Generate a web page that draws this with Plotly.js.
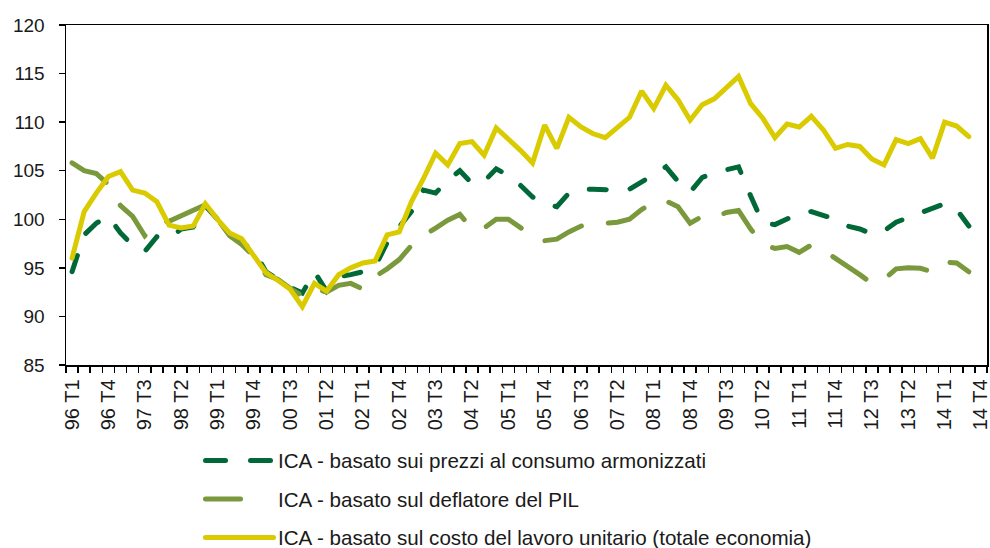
<!DOCTYPE html>
<html>
<head>
<meta charset="utf-8">
<script src="https://cdn.plot.ly/plotly-3.0.1.min.js"></script>
<style>
  html, body { margin: 0; padding: 0; background: #fff; }
  #chart { width: 990px; height: 548px; }
  .js-line, .shapelayer path { stroke-linecap: round; }
</style>
</head>
<body>
<div id="chart"></div>
<script>
// ---- Data (quarterly, 1996 T1 – 2014 T4) ----
const years = ['96','97','98','99','00','01','02','03','04','05','06','07','08','09','10','11','12','13','14'];
const quarterNames = ['T1','T2','T3','T4'];

// ICA - basato sui prezzi al consumo armonizzati
const icaHicp = [
  94.6, 98.4, 99.6, 100.3, 98.6, 97.3, 96.7, 98.2, 98.0, 99.0, 99.2, 101.4,
  100.0, 98.4, 97.6, 96.8, 94.6, 93.8, 93.0, 92.4, 94.6, 92.6, 94.1, 94.3,
  94.6, 95.1, 97.6, 99.2, 100.8, 103.0, 102.7, 104.0, 105.0, 103.7, 103.9, 105.2,
  104.5, 103.5, 102.3, 101.6, 101.3, 102.7, 103.1, 103.1, 103.0, 103.0, 103.1, 103.8,
  104.6, 105.4, 103.9, 102.8, 104.3, 104.8, 105.1, 105.4, 102.4, 99.6, 99.45, 100.0,
  100.6, 100.8, 100.4, 100.0, 99.3, 99.0, 98.5, 98.8, 99.7, 100.2, 100.7, 101.15,
  101.6, 101.0, 99.3, null
];
// ICA - basato sul deflatore del PIL
const icaDeflator = [
  105.8, 105.0, 104.7, 103.6, 101.4, 100.3, 98.3, 99.6, 99.8, 100.4, 101.0, 101.5,
  100.0, 98.3, 97.4, 96.2, 94.3, 93.8, 92.9, 92.1, 92.9, 92.5, 93.2, 93.4,
  92.8, 94.1, 94.9, 95.85, 97.3, 98.3, 99.1, 99.9, 100.5, 99.0, 99.1, 100.0,
  100.0, 99.1, 98.3, 97.8, 97.95, 98.7, 99.3, 99.5, 99.6, 99.7, 100.0, 101.0,
  101.8, 101.9, 101.3, 99.6, 100.3, 100.2, 100.7, 100.9, 99.0, 97.4, 97.0, 97.2,
  96.6, 97.35, 96.8, 96.0, 95.2, 94.3, 93.4, 93.8, 94.9, 95.0, 94.95, 94.6,
  95.6, 95.5, 94.6, null
];
// ICA - basato sul costo del lavoro unitario (totale economia)
const icaUlc = [
  96.0, 100.8, 102.7, 104.4, 104.9, 103.0, 102.7, 101.8, 99.4, 99.1, 99.3, 101.6,
  100.0, 98.6, 98.0, 96.2, 94.5, 93.7, 92.8, 91.0, 93.4, 92.6, 94.3, 95.0,
  95.5, 95.7, 98.4, 98.7, 101.8, 104.2, 106.8, 105.6, 107.8, 108.0, 106.6, 109.4,
  108.3, 107.1, 105.8, 109.7, 107.3, 110.5, 109.5, 108.8, 108.4, 109.4, 110.5, 113.2,
  111.4, 113.8, 112.3, 110.2, 111.8, 112.4, 113.5, 114.7, 111.9, 110.4, 108.4, 109.8,
  109.5, 110.6, 109.2, 107.3, 107.7, 107.5, 106.2, 105.6, 108.2, 107.8, 108.3, 106.3,
  110.0, 109.6, 108.5, null
];

const seriesNames = [
  'ICA - basato sui prezzi al consumo armonizzati',
  'ICA - basato sul deflatore del PIL',
  'ICA - basato sul costo del lavoro unitario (totale economia)'
];

// ---- Derived ----
const quarters = [];
years.forEach(y => quarterNames.forEach(q => quarters.push(y + ' ' + q)));
const idx = quarters.map((_, i) => i);
const labelStep = 3;
const tickIdx = idx.filter(i => i % labelStep === 0);
const tickTxt = tickIdx.map(i => quarters[i]);
const boundaries = [];
for (let i = 0; i <= quarters.length; i++) boundaries.push(i - 0.5);

// ---- Styles ----
const cDark = '#006937';
const cOlive = '#7A993D';
const cYellow = '#D9CB00';
const fontFam = '"Liberation Sans", Arial, sans-serif';

const traces = [
  { x: idx, y: icaHicp, name: seriesNames[0], type: 'scatter', mode: 'lines',
    line: { color: cDark, width: 5, dash: '17px,24px' }, connectgaps: false },
  { x: idx, y: icaDeflator, name: seriesNames[1], type: 'scatter', mode: 'lines',
    line: { color: cOlive, width: 5, dash: '40px,27px' }, connectgaps: false },
  { x: idx, y: icaUlc, name: seriesNames[2], type: 'scatter', mode: 'lines',
    line: { color: cYellow, width: 5 }, connectgaps: false }
];

// plot-area pixel frame for the hand-drawn legend
const PL = 66, PR = 987, PT = 25, PB = 365;
const fx = p => (p - PL) / (PR - PL);
const fy = p => (PB - p) / (PB - PT);

const legRows = [460.5, 499, 537.5];
const shapes = [
  { type: 'line', xref: 'paper', yref: 'paper', x0: fx(205.5), x1: fx(225.5), y0: fy(legRows[0]), y1: fy(legRows[0]), line: { color: cDark, width: 5 } },
  { type: 'line', xref: 'paper', yref: 'paper', x0: fx(250.5), x1: fx(270.5), y0: fy(legRows[0]), y1: fy(legRows[0]), line: { color: cDark, width: 5 } },
  { type: 'line', xref: 'paper', yref: 'paper', x0: fx(205.5), x1: fx(240.5), y0: fy(legRows[1]), y1: fy(legRows[1]), line: { color: cOlive, width: 5 } },
  { type: 'line', xref: 'paper', yref: 'paper', x0: fx(205.5), x1: fx(273.5), y0: fy(legRows[2]), y1: fy(legRows[2]), line: { color: cYellow, width: 5 } }
];
const annotations = seriesNames.map((t, k) => ({
  text: t, xref: 'paper', yref: 'paper', x: fx(276), y: fy(legRows[k]),
  xanchor: 'left', yanchor: 'middle', showarrow: false,
  font: { family: fontFam, size: 20.6, color: '#1a1a1a' }
}));

const layout = {
  width: 990, height: 548,
  margin: { l: PL, r: 990 - PR, t: PT, b: 548 - PB, pad: 0 },
  paper_bgcolor: '#ffffff', plot_bgcolor: '#ffffff',
  showlegend: false,
  hovermode: false,
  xaxis: {
    type: 'linear',
    range: [-0.5, quarters.length - 0.5],
    tickmode: 'array', tickvals: tickIdx, ticktext: tickTxt,
    tickangle: -90,
    ticks: '',
    ticklabelstandoff: 5,
    ticklabeloverflow: 'allow',
    tickfont: { family: fontFam, size: 20, color: '#1a1a1a' },
    minor: { tickmode: 'array', tickvals: boundaries, ticks: 'outside', ticklen: 6, tickwidth: 1.5, tickcolor: '#000' },
    showgrid: false, zeroline: false,
    showline: true, linecolor: '#000', linewidth: 1.5, mirror: true
  },
  yaxis: {
    range: [85, 120],
    tickmode: 'linear', tick0: 85, dtick: 5,
    ticks: 'outside', ticklen: 6, tickwidth: 1.5, tickcolor: '#000',
    ticklabelstandoff: 10,
    tickfont: { family: fontFam, size: 19, color: '#1a1a1a' },
    showgrid: false, zeroline: false,
    showline: true, linecolor: '#000', linewidth: 1.5, mirror: true
  },
  shapes: shapes,
  annotations: annotations
};

Plotly.newPlot('chart', traces, layout, { staticPlot: true, displayModeBar: false });
</script>
</body>
</html>
